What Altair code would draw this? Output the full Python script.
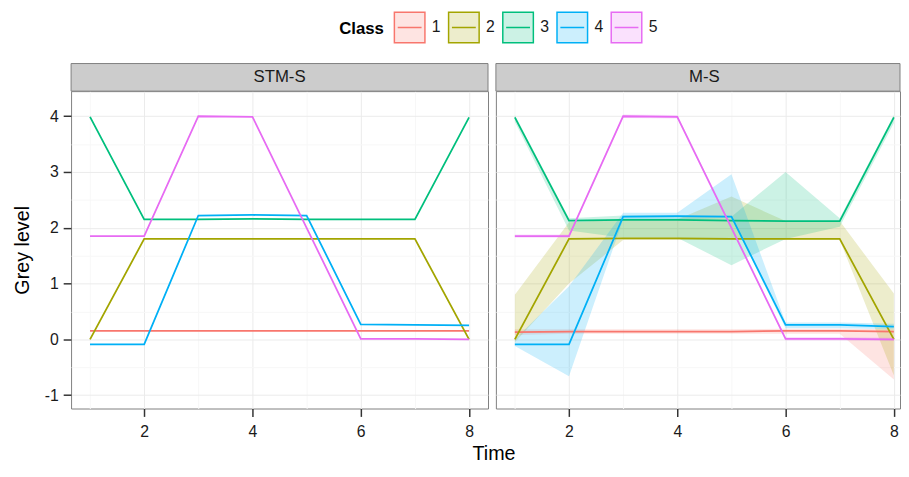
import altair as alt
import pandas as pd

# ---------------- data ----------------
time = [1, 2, 3, 4, 5, 6, 7, 8]
classes = ["1", "2", "3", "4", "5"]
panels = ["STM-S", "M-S"]
colors = ["#F8766D", "#A3A500", "#00BF7D", "#00B0F6", "#E76BF3"]
ribbon_fills = ["rgba(248,118,109,0.2)", "rgba(163,165,0,0.2)", "rgba(0,191,125,0.2)",
                "rgba(0,176,246,0.2)", "rgba(231,107,243,0.2)"]

# STM-S panel (class means)
stm_c1 = [0.15, 0.15, 0.15, 0.15, 0.15, 0.15, 0.15, 0.15]
stm_c2 = [0.00, 1.80, 1.80, 1.80, 1.80, 1.80, 1.80, 0.00]
stm_c3 = [3.99, 2.15, 2.15, 2.16, 2.15, 2.15, 2.15, 3.98]
stm_c4 = [-0.09, -0.09, 2.22, 2.23, 2.22, 0.27, 0.26, 0.25]
stm_c5 = [1.85, 1.85, 4.00, 3.99, 2.00, 0.01, 0.01, 0.00]

# M-S panel (class means)
ms_c1 = [0.13, 0.14, 0.14, 0.14, 0.14, 0.15, 0.15, 0.14]
ms_c2 = [0.00, 1.80, 1.81, 1.81, 1.80, 1.80, 1.80, 0.00]
ms_c3 = [3.98, 2.13, 2.14, 2.14, 2.13, 2.12, 2.12, 3.98]
ms_c4 = [-0.09, -0.09, 2.20, 2.21, 2.20, 0.26, 0.26, 0.23]
ms_c5 = [1.85, 1.85, 4.00, 3.99, 2.00, 0.01, 0.01, 0.00]

# M-S panel ribbons (lower / upper)
ms_c1_lo = [0.08, 0.10, 0.10, 0.10, 0.10, 0.10, 0.10, -0.72]
ms_c1_hi = [0.18, 0.18, 0.18, 0.18, 0.18, 0.19, 0.19, 0.18]
ms_c2_lo = [-0.05, 1.00, 1.78, 1.78, 1.78, 1.78, 1.78, -0.65]
ms_c2_hi = [0.80, 2.10, 2.15, 2.15, 2.56, 2.12, 2.12, 0.82]
ms_c3_lo = [3.90, 1.95, 1.82, 1.82, 1.33, 1.80, 2.02, 3.88]
ms_c3_hi = [4.02, 2.17, 2.22, 2.22, 2.20, 3.00, 2.17, 4.02]
ms_c4_lo = [-0.12, -0.66, 2.15, 2.15, 2.18, 0.20, 0.20, 0.18]
ms_c4_hi = [0.00, 0.95, 2.27, 2.27, 2.96, 0.30, 0.30, 0.28]
ms_c5_lo = [1.82, 1.82, 3.97, 3.96, 1.97, -0.02, -0.02, -0.03]
ms_c5_hi = [1.88, 1.88, 4.03, 4.02, 2.03, 0.04, 0.04, 0.03]

stm = [stm_c1, stm_c2, stm_c3, stm_c4, stm_c5]
ms = [ms_c1, ms_c2, ms_c3, ms_c4, ms_c5]
ms_lo = [ms_c1_lo, ms_c2_lo, ms_c3_lo, ms_c4_lo, ms_c5_lo]
ms_hi = [ms_c1_hi, ms_c2_hi, ms_c3_hi, ms_c4_hi, ms_c5_hi]

rows_stm, rows_ms = [], []
for ci, c in enumerate(classes):
    for ti, t in enumerate(time):
        rows_stm.append({"panel": "STM-S", "cls": c, "time": t, "value": stm[ci][ti]})
        rows_ms.append({"panel": "M-S", "cls": c, "time": t, "value": ms[ci][ti],
                        "lo": ms_lo[ci][ti], "hi": ms_hi[ci][ti]})
df_stm = pd.DataFrame(rows_stm)
df_ms = pd.DataFrame(rows_ms)

# ---------------- chart ----------------
W_FULL = 423          # full panel width
W_RIGHT = 410         # right panel is cut at the picture edge
H = 322
STRIP = 28
PX_PER_UNIT = W_FULL / 7.7
FONT = "Liberation Sans"
SYM = 31

x_left_scale = alt.Scale(domain=[0.65, 8.35], nice=False, zero=False)
x_right_scale = alt.Scale(domain=[0.65, 0.65 + W_RIGHT / PX_PER_UNIT], nice=False, zero=False)
y_scale = alt.Scale(domain=[-1.24, 4.45], nice=False, zero=False)

x_axis = alt.Axis(
    values=time, title=None,
    labelExpr="datum.value % 2 === 0 ? datum.label : ''",
    tickColor={"condition": {"test": "datum.value % 2 === 0", "value": "#333333"},
               "value": "transparent"},
    gridColor={"condition": {"test": "datum.value % 2 === 0", "value": "#EBEBEB"},
               "value": "#F7F7F7"},
)
y_vals = [-1, -0.5, 0, 0.5, 1, 1.5, 2, 2.5, 3, 3.5, 4]
y_grid = {"condition": {"test": "datum.value % 1 === 0", "value": "#EBEBEB"},
          "value": "#F7F7F7"}
y_axis_left = alt.Axis(
    values=y_vals, title="Grey level", titlePadding=12,
    labelExpr="datum.value % 1 === 0 ? '' + datum.value : ''",
    tickColor={"condition": {"test": "datum.value % 1 === 0", "value": "#333333"},
               "value": "transparent"},
    gridColor=y_grid,
)
y_axis_right = alt.Axis(values=y_vals, title=None, labels=False, ticks=False, gridColor=y_grid)

legend_path = "M-1,-1H1V1H-1Z M-0.78,0H0.78"
legend = alt.Legend(
    title="Class", orient="none", direction="horizontal", titleOrient="left",
    legendX=272, legendY=-(STRIP + 22 + SYM),
    symbolType=legend_path, symbolSize=SYM * SYM, symbolStrokeWidth=1.5,
    labelOffset=6, columnPadding=5, titlePadding=9,
)


def strip(data, width, label_filter):
    one = alt.Chart(data).transform_filter(label_filter)
    rect = one.mark_rect(fill="#CCCCCC", stroke="#7F7F7F", strokeWidth=1, clip=False).encode(
        x=alt.value(0), x2=alt.value(width), y=alt.value(-STRIP), y2=alt.value(0))
    text = one.mark_text(font=FONT, fontSize=17, color="#1A1A1A",
                         baseline="middle", align="center").encode(
        x=alt.value(W_FULL / 2), y=alt.value(-STRIP / 2), text="panel:N")
    return rect, text


first_row = "datum.time == 1 && datum.cls == '1'"

lines_left = alt.Chart(df_stm).mark_line(strokeWidth=1.8, clip=True).encode(
    x=alt.X("time:Q", scale=x_left_scale, axis=x_axis),
    y=alt.Y("value:Q", scale=y_scale, axis=y_axis_left),
    stroke=alt.Stroke("cls:N", scale=alt.Scale(domain=classes, range=colors), legend=legend),
    order="time:Q",
)
sl_rect, sl_text = strip(df_stm, W_FULL, first_row)
left = alt.layer(lines_left, sl_rect, sl_text).properties(width=W_FULL, height=H)

ribbons = alt.Chart(df_ms).mark_area(interpolate="linear", clip=True).encode(
    x=alt.X("time:Q", scale=x_right_scale, axis=x_axis),
    y=alt.Y("lo:Q", scale=y_scale, axis=y_axis_right),
    y2="hi:Q",
    fill=alt.Fill("cls:N", scale=alt.Scale(domain=classes, range=ribbon_fills), legend=legend),
    detail="cls:N",
)
lines_right = alt.Chart(df_ms).mark_line(strokeWidth=1.8, clip=True).encode(
    x=alt.X("time:Q", scale=x_right_scale, axis=x_axis),
    y=alt.Y("value:Q", scale=y_scale, axis=y_axis_right),
    stroke=alt.Stroke("cls:N", scale=alt.Scale(domain=classes, range=colors), legend=legend),
    order="time:Q",
)
sr_rect, sr_text = strip(df_ms, W_RIGHT, first_row)
right = alt.layer(ribbons, lines_right, sr_rect, sr_text).properties(width=W_RIGHT, height=H)

chart = alt.hconcat(left, right, spacing=6).resolve_scale(
    x="independent"
).properties(
    padding={"left": 4, "top": 0, "right": 0, "bottom": 0},
    title=alt.TitleParams("Time", orient="bottom", anchor="middle", font=FONT, fontSize=20,
                          fontWeight="normal", color="#000000", offset=5, dx=38),
).configure_view(
    stroke="#7F7F7F", strokeWidth=1
).configure_axis(
    labelFont=FONT, titleFont=FONT, labelFontSize=16, titleFontSize=20,
    titleFontWeight="normal", labelColor="#1A1A1A", titleColor="#000000",
    tickSize=8, tickWidth=1.5, domain=False, gridWidth=1,
).configure_axisX(
    labelPadding=7
).configure_axisY(
    labelPadding=5
).configure_legend(
    labelFont=FONT, titleFont=FONT, labelFontSize=16, titleFontSize=17,
    titleFontWeight="bold", labelColor="#1A1A1A", titleColor="#000000",
)

chart.save("out.html", embed_options={"renderer": "svg", "actions": False})
